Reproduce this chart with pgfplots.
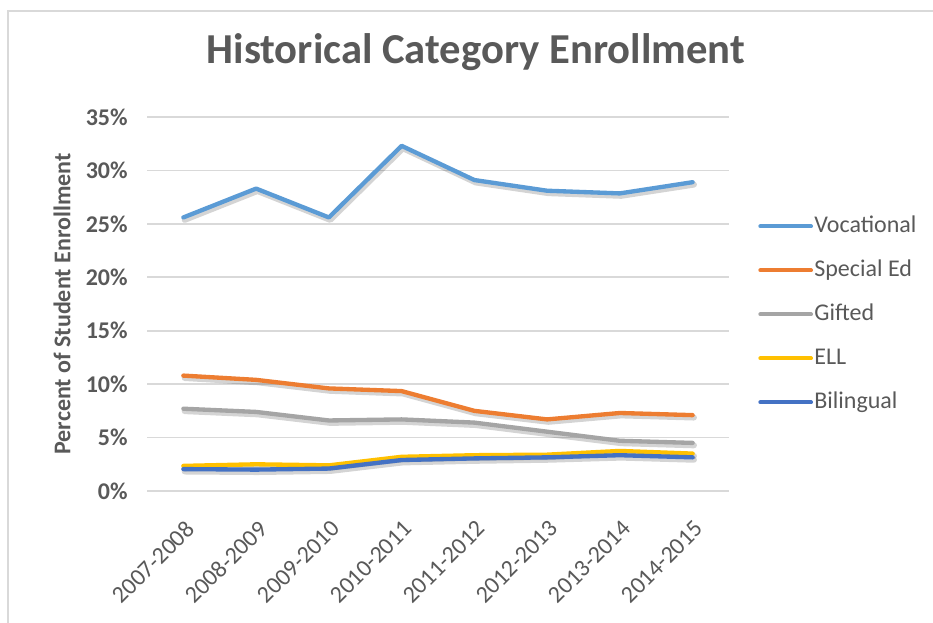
\documentclass[border=0pt]{standalone}
\usepackage{fontspec}
\setmainfont{Carlito}
\usepackage{pgfplots}
\usepackage{pgfplotstable}
\pgfplotsset{compat=1.18}

\definecolor{voc}{HTML}{5B9BD5}
\definecolor{sped}{HTML}{ED7D31}
\definecolor{gift}{HTML}{A5A5A5}
\definecolor{ell}{HTML}{FFC000}
\definecolor{bil}{HTML}{4472C4}
\definecolor{txt}{HTML}{595959}
\definecolor{gridc}{HTML}{D9D9D9}

% percent of student enrollment per school year
\pgfplotstableread{
x voc  sped  gift ell  bil
0 25.6 10.8  7.7  2.35 2.05
1 28.3 10.4  7.4  2.5  2.0
2 25.6 9.6   6.6  2.4  2.1
3 32.3 9.35  6.7  3.2  2.9
4 29.1 7.5   6.4  3.35 3.05
5 28.1 6.7   5.55 3.4  3.15
6 27.85 7.3  4.7  3.75 3.35
7 28.9 7.1   4.5  3.5  3.15
}\enrol

\pgfplotsset{
  shadow/.style={forget plot, black, opacity=0.17, line width=4.5pt, no markers,
    line join=round, line cap=round, transform canvas={xshift=1pt,yshift=-1.8pt}},
  series/.style={#1, line width=3.25pt, no markers, line join=round, line cap=round},
}

\begin{document}
\begin{tikzpicture}
\draw[gridc, line width=1.5pt] (699.75pt,-8.25pt) -- (6pt,-8.25pt) -- (6pt,-467.25pt);
\begin{axis}[
  at={(110.25pt,-368.25pt)}, anchor=south west,
  scale only axis, width=436.5pt, height=280.5pt,
  xmin=-0.5, xmax=7.5, ymin=0, ymax=35,
  xtick={0,...,7},
  xticklabels={2007-2008,2008-2009,2009-2010,2010-2011,2011-2012,2012-2013,2013-2014,2014-2015},
  ytick={0,5,...,35},
  yticklabels={0\%,5\%,10\%,15\%,20\%,25\%,30\%,35\%},
  axis line style={draw=none}, major tick length=0pt,
  ymajorgrids, grid style={gridc, line width=1.2pt},
  tick label style={font=\fontsize{18}{20}\selectfont, text=txt},
  yticklabel style={font=\fontsize{18}{20}\selectfont\bfseries, xshift=-11pt},
  xticklabel style={rotate=45, anchor=north east, xshift=-11pt, yshift=-12pt},
  ylabel={Percent of Student Enrollment},
  ylabel style={font=\fontsize{18}{20}\selectfont\bfseries, text=txt,
    at={(axis description cs:-0.146,0.5)}, anchor=center},
  title={Historical Category Enrollment},
  title style={font=\fontsize{32}{36}\selectfont\bfseries, text=txt,
    at={(axis description cs:0.565,1.152)}, anchor=center},
  legend style={at={(axis description cs:1.05,0.472)}, anchor=west,
    draw=none, fill=none, inner sep=0pt, row sep=14pt,
    font=\fontsize{18}{20}\selectfont, text=txt,
    nodes={inner sep=1pt, text height=13pt, text depth=4pt}},
  legend cell align=left,
  legend image code/.code={\draw[#1, line width=3pt, line cap=round] (0pt,0pt) -- (38pt,0pt);},
]
\addplot[shadow] table[x=x, y=voc] {\enrol};
\addplot[series=voc] table[x=x, y=voc] {\enrol};
\addlegendentry{Vocational}
\addplot[shadow] table[x=x, y=sped] {\enrol};
\addplot[series=sped] table[x=x, y=sped] {\enrol};
\addlegendentry{Special Ed}
\addplot[shadow] table[x=x, y=gift] {\enrol};
\addplot[series=gift] table[x=x, y=gift] {\enrol};
\addlegendentry{Gifted}
\addplot[shadow] table[x=x, y=ell] {\enrol};
\addplot[series=ell] table[x=x, y=ell] {\enrol};
\addlegendentry{ELL}
\addplot[shadow] table[x=x, y=bil] {\enrol};
\addplot[series=bil] table[x=x, y=bil] {\enrol};
\addlegendentry{Bilingual}
\end{axis}
\pgfresetboundingbox
\path (0pt,0pt) rectangle (699.75pt,-467.25pt);
\end{tikzpicture}
\end{document}
